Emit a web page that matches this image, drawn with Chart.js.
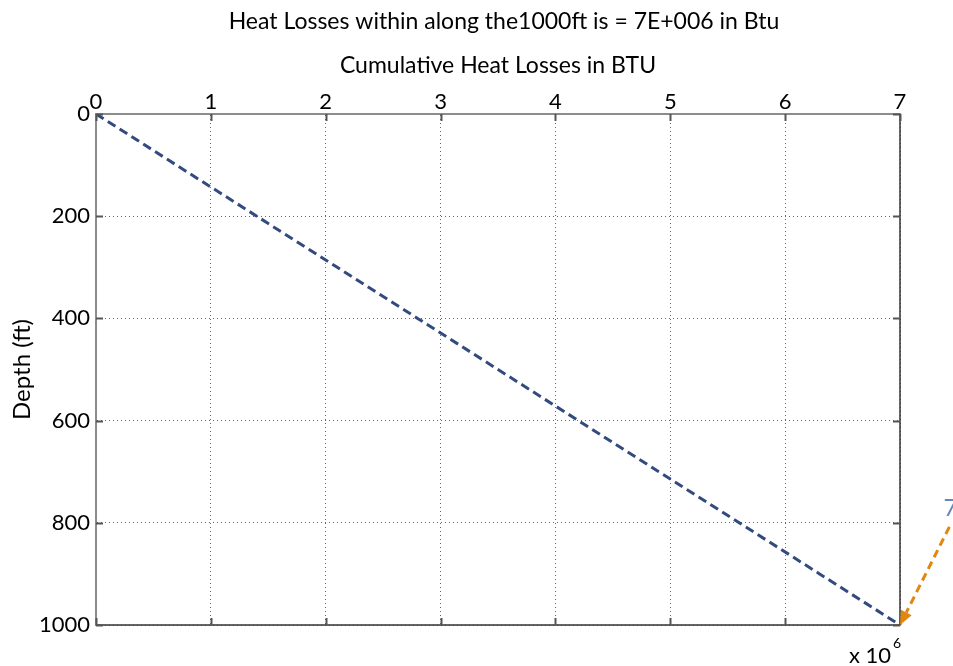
<!DOCTYPE html>
<html>
<head>
<meta charset="utf-8">
<script src="https://cdn.jsdelivr.net/npm/chart.js@4/dist/chart.umd.min.js"></script>
<style>
  html, body { margin: 0; padding: 0; background: #fff; }
  #wrap { width: 953px; height: 666px; }
</style>
</head>
<body>
<div id="wrap"><canvas id="c" width="953" height="666"></canvas></div>
<script>
// ---- data ----
const depthFt = [0, 100, 200, 300, 400, 500, 600, 700, 800, 900, 1000];
const heatBtu = [0, 700000, 1400000, 2100000, 2800000, 3500000, 4200000, 4900000, 5600000, 6300000, 7000000];
const xTicks = [0, 1, 2, 3, 4, 5, 6, 7];          // x 10^6
const yTicks = [0, 200, 400, 600, 800, 1000];
const titleText = 'Heat Losses within along the1000ft is = 7E+006 in Btu';
const xTitle = 'Cumulative Heat Losses in BTU';
const yTitle = 'Depth (ft)';
const arrowFrom = [7430000, 808];   // annotation arrow start (data units)
const arrowTo = [7000000, 1000];    // points at final value
const arrowLabel = '7';

const FONT = 'Lato, "Open Sans", sans-serif';
const lineColor = '#334a7e';
const orange = '#e3860f';

const points = depthFt.map((d, i) => ({ x: heatBtu[i], y: d }));

const annot = {
  id: 'annot',
  afterDraw(chart) {
    const { ctx, scales: { x, y }, chartArea: a } = chart;
    ctx.save();
    // main title
    ctx.fillStyle = '#000';
    ctx.font = '23px ' + FONT;
    ctx.textAlign = 'center';
    ctx.textBaseline = 'middle';
    ctx.fillText(titleText, (a.left + a.right) / 2 + 6, 22);
    // right / bottom dark frame
    ctx.strokeStyle = '#333';
    ctx.lineWidth = 1.5;
    ctx.beginPath();
    ctx.moveTo(a.left, a.bottom);
    ctx.lineTo(a.right, a.bottom);
    ctx.lineTo(a.right, a.top);
    ctx.stroke();
    // inward tick marks
    ctx.strokeStyle = '#555';
    ctx.lineWidth = 2;
    const tl = 7;
    xTicks.forEach(t => {
      const px = Math.round(x.getPixelForValue(t * 1e6)) + 0.5;
      ctx.beginPath(); ctx.moveTo(px, a.top); ctx.lineTo(px, a.top + tl); ctx.stroke();
      ctx.beginPath(); ctx.moveTo(px, a.bottom); ctx.lineTo(px, a.bottom - tl); ctx.stroke();
    });
    yTicks.forEach(t => {
      const py = Math.round(y.getPixelForValue(t)) + 0.5;
      ctx.beginPath(); ctx.moveTo(a.left, py); ctx.lineTo(a.left + tl, py); ctx.stroke();
      ctx.beginPath(); ctx.moveTo(a.right, py); ctx.lineTo(a.right - tl, py); ctx.stroke();
    });
    // annotation arrow
    const x0 = x.getPixelForValue(arrowFrom[0]), y0 = y.getPixelForValue(arrowFrom[1]);
    const x1 = x.getPixelForValue(arrowTo[0]), y1 = y.getPixelForValue(arrowTo[1]);
    const ang = Math.atan2(y1 - y0, x1 - x0);
    const hl = 14, hw = 6;
    const bx = x1 - hl * Math.cos(ang), by = y1 - hl * Math.sin(ang);
    ctx.strokeStyle = orange;
    ctx.lineWidth = 3;
    ctx.setLineDash([8, 5]);
    ctx.beginPath(); ctx.moveTo(x0, y0); ctx.lineTo(bx, by); ctx.stroke();
    ctx.setLineDash([]);
    ctx.fillStyle = orange;
    ctx.beginPath();
    ctx.moveTo(x1, y1);
    ctx.lineTo(bx + hw * Math.sin(ang), by - hw * Math.cos(ang));
    ctx.lineTo(bx - hw * Math.sin(ang), by + hw * Math.cos(ang));
    ctx.closePath(); ctx.fill();
    // arrow label
    ctx.fillStyle = '#6a86bd';
    ctx.font = '24px ' + FONT;
    ctx.textAlign = 'left';
    ctx.textBaseline = 'bottom';
    ctx.fillText(arrowLabel, x0 - 6, y0 - 7);
    // exponent label
    ctx.fillStyle = '#000';
    ctx.font = '22px ' + FONT;
    ctx.textAlign = 'right';
    ctx.textBaseline = 'alphabetic';
    ctx.fillText('x 10', a.right - 9, 663);
    ctx.font = '14px ' + FONT;
    ctx.textAlign = 'left';
    ctx.fillText('6', a.right - 7, 648);
    ctx.restore();
  }
};

new Chart(document.getElementById('c'), {
  type: 'scatter',
  data: {
    datasets: [{
      data: points,
      showLine: true,
      borderColor: lineColor,
      borderWidth: 3,
      borderDash: [9, 5],
      pointRadius: 0,
      fill: false
    }]
  },
  options: {
    responsive: false,
    animation: false,
    devicePixelRatio: 1,
    layout: { padding: { left: 0, right: 53, top: 0, bottom: 41 } },
    plugins: {
      legend: { display: false },
      tooltip: { enabled: false },
      title: { display: false }
    },
    scales: {
      x: {
        type: 'linear',
        position: 'top',
        min: 0, max: 7000000,
        afterFit(s) { s.height = 114; },
        afterBuildTicks(s) { s.ticks = xTicks.map(v => ({ value: v * 1e6 })); },
        ticks: {
          color: '#000',
          font: { family: FONT, size: 22, lineHeight: 1 },
          padding: 1,
          maxRotation: 0,
          callback: v => String(v / 1e6)
        },
        grid: { color: '#666', drawTicks: false, lineWidth: 1 },
        border: { display: true, color: '#8c8c8c', width: 2, dash: [1, 3] },
        title: {
          display: true, text: xTitle, color: '#000',
          font: { family: FONT, size: 23, lineHeight: 1.2 },
          padding: { top: 52, bottom: 0 }
        }
      },
      y: {
        type: 'linear',
        reverse: true,
        min: 0, max: 1000,
        afterFit(s) { s.width = 96; },
        afterBuildTicks(s) { s.ticks = yTicks.map(v => ({ value: v })); },
        ticks: {
          color: '#000',
          font: { family: FONT, size: 22, lineHeight: 1 },
          padding: 6,
          callback: v => String(v)
        },
        grid: { color: '#666', drawTicks: false, lineWidth: 1 },
        border: { display: true, color: '#8c8c8c', width: 2, dash: [1, 3] },
        title: {
          display: true, text: yTitle, color: '#000',
          font: { family: FONT, size: 24, lineHeight: 1.2 },
          padding: { top: 8, bottom: 0 }
        }
      }
    }
  },
  plugins: [annot]
});
</script>
</body>
</html>
